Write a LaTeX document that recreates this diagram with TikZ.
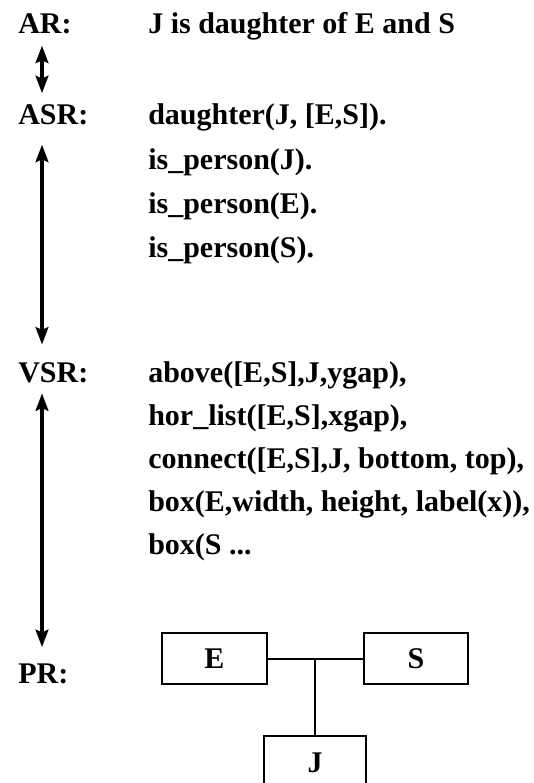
\documentclass[tikz,border=0pt]{standalone}
\usepackage{fontspec}
\setmainfont{Liberation Serif}
\usetikzlibrary{arrows.meta, positioning}

\tikzset{
  txt/.style={inner sep=0pt, anchor=base west, font=\fontsize{22.5}{26}\selectfont\bfseries},
  fig/.style={draw, line width=1.5pt, inner sep=0pt, minimum width=78pt, minimum height=38.25pt,
    font=\fontsize{22.5}{26}\selectfont\bfseries},
  map/.style={line width=2.6pt, {Stealth[length=13pt,width=9.5pt,inset=2pt]}-{Stealth[length=13pt,width=9.5pt,inset=2pt]}},
}

\begin{document}
\begin{tikzpicture}[x=0.75pt, y=-0.75pt]
        \useasboundingbox (0,0) rectangle (534,783);
        % levels
        \node[txt] (ar) at (18,33) {AR:};
        \node[txt] (asr) at (18,124) {ASR:};
        \node[txt] (vsr) at (18,382) {VSR:};
        \node[txt] (pr) at (18,683) {PR:};
        \draw[map, shorten <=9pt, shorten >=8pt] ([xshift=18pt]ar.south west) -- ([xshift=18pt]asr.north west);
        \draw[map, shorten <=15pt, shorten >=13pt] ([xshift=18pt]asr.south west) -- ([xshift=18pt]vsr.north west);
        \draw[map, shorten <=8pt, shorten >=12pt] ([xshift=18pt]vsr.south west) -- ([xshift=18pt]pr.north west);
        % representations
        \node[txt] (artext) at (148,33) {J is daughter of E and S};
        \node[txt] (asr1) at (148,124) {daughter(J, [E,S]).};
        \node[txt] (asr2) at (148,169) {is\_person(J).};
        \node[txt] (asr3) at (148,213) {is\_person(E).};
        \node[txt] (asr4) at (148,257) {is\_person(S).};
        \node[txt] (vsr1) at (148,382) {above([E,S],J,ygap),};
        \node[txt] (vsr2) at (148,425) {hor\_list([E,S],xgap),};
        \node[txt] (vsr3) at (148,468) {connect([E,S],J, bottom, top),};
        \node[txt] (vsr4) at (148,511) {box(E,width, height, label(x)),};
        \node[txt] (vsr5) at (148,554) {box(S ...};
        % picture
        \node[fig, minimum width=78.75pt] (e) at (214.5,658.5) {E};
        \node[fig] (s) at (416,658.5) {S};
        \node[fig, minimum width=76.5pt, minimum height=40.5pt, anchor=north] (j) at (315,735) {J};
        \coordinate (mid) at (315,658.5);
        \draw[line width=1.5pt] (e) -- (s);
        \draw[line width=1.5pt] (mid) -- (j);
    \end{tikzpicture}
\end{document}
